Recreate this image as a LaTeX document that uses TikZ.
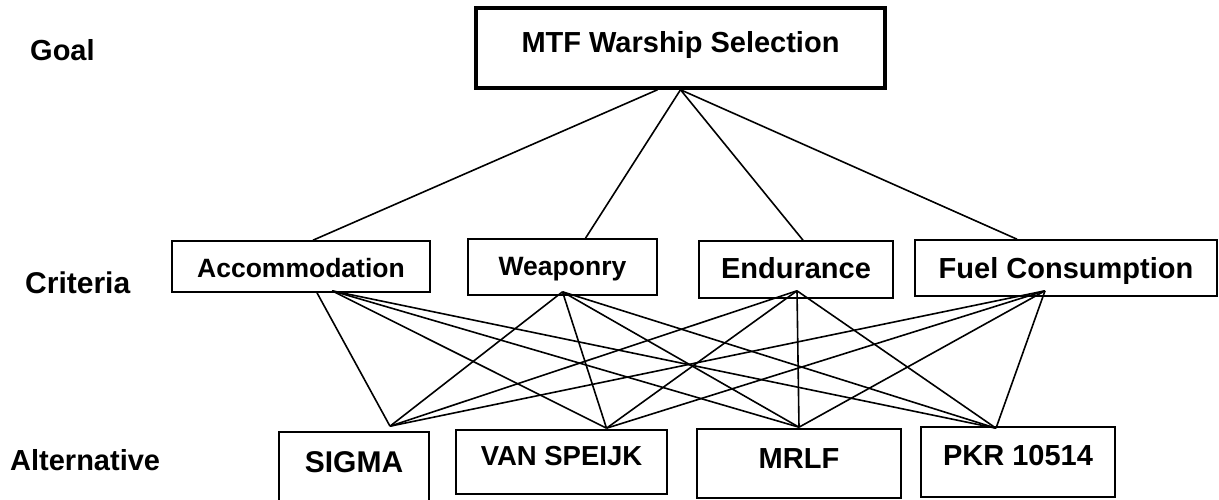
\documentclass[tikz,border=0pt]{standalone}
\usepackage{fontspec}
\setmainfont{Liberation Sans}

\tikzset{
  lvl/.style={anchor=base west, inner sep=0pt, font={\fontsize{29}{31}\selectfont\bfseries}},
  goalbox/.style={draw, line width=3.5pt, anchor=base, inner sep=0pt, font={\fontsize{29}{31}\selectfont\bfseries}},
  critbox/.style={draw, line width=1.6pt, anchor=base, inner sep=0pt, font={\fontsize{26.5}{28}\selectfont\bfseries}},
  big/.style={font={\fontsize{29}{31}\selectfont\bfseries}},
  link/.style={line width=1.6pt},
}

\begin{document}
\begin{tikzpicture}[x=1pt, y=-1pt]
\useasboundingbox (0,0) rectangle (1219,499);

% levels
\node [lvl] (lgoal) at (30,60) {Goal};
\node [lvl, font={\fontsize{30}{32}\selectfont\bfseries}] (lcrit) at (25,293) {Criteria};
\node [lvl] (lalt) at (10,470) {Alternative};

% goal
\node [goalbox, minimum width=409pt, text height=44pt, text depth=36pt] (goal) at (680.5,52) {MTF Warship Selection};

% criteria
\node [critbox, minimum width=258pt, text height=36pt, text depth=15pt] (acc) at (301,277) {Accommodation};
\node [critbox, minimum width=189pt, text height=36pt, text depth=20pt] (weap) at (562.5,275) {Weaponry};
\node [critbox, big, minimum width=194pt, text height=37pt, text depth=20pt] (endu) at (796,278) {Endurance};
\node [critbox, big, minimum width=302pt, text height=38pt, text depth=18pt] (fuel) at (1066,278) {Fuel Consumption};

% alternatives
\node [critbox, font={\fontsize{30}{32}\selectfont\bfseries}, minimum width=150pt, text height=40pt, text depth=50pt] (sigma) at (354,472) {SIGMA};
\node [critbox, font={\fontsize{27.5}{29}\selectfont\bfseries}, minimum width=211pt, text height=35pt, text depth=29pt] (van) at (561.5,465) {VAN SPEIJK};
\node [critbox, big, minimum width=204pt, text height=39pt, text depth=30pt] (mrlf) at (799,468) {MRLF};
\node [critbox, big, minimum width=194pt, text height=38pt, text depth=32pt] (pkr) at (1018,465) {PKR 10514};

% ends of the links
\coordinate (goalL) at ([xshift=-23pt]goal.south);
\coordinate (accTop) at ([xshift=12pt]acc.north);
\coordinate (weapTop) at ([xshift=23pt]weap.north);
\coordinate (enduTop) at ([xshift=7pt]endu.north);
\coordinate (fuelTop) at ([xshift=-49pt]fuel.north);

\coordinate (accS) at ([xshift=16pt]acc.south);
\coordinate (accR) at ([xshift=31pt,yshift=2pt]acc.south);
\coordinate (weapB) at ([yshift=4pt]weap.south);
\coordinate (enduB) at ([xshift=1pt,yshift=8pt]endu.south);
\coordinate (fuelB) at ([xshift=-21pt,yshift=6pt]fuel.south);

\coordinate (sigmaT) at ([xshift=36pt,yshift=5pt]sigma.north);
\coordinate (vanT) at ([xshift=45pt,yshift=1pt]van.north);
\coordinate (mrlfT) at ([yshift=1pt]mrlf.north);
\coordinate (pkrT) at ([xshift=-22pt,yshift=-2pt]pkr.north);

% goal to criteria
\draw [link] (goalL)--(accTop);
\draw [link] (goal.south)--(weapTop);
\draw [link] (goal.south)--(enduTop);
\draw [link] (goal.south)--(fuelTop);

% criteria to alternatives
\draw [link] (accS)--(sigmaT);
\draw [link] (accR)--(vanT);
\draw [link] (accR)--(mrlfT);
\draw [link] (accR)--(pkrT);

\draw [link] (weapB)--(sigmaT);
\draw [link] (weapB)--(vanT);
\draw [link] (weapB)--(mrlfT);
\draw [link] (weapB)--(pkrT);

\draw [link] (enduB)--(sigmaT);
\draw [link] (enduB)--(vanT);
\draw [link] (enduB)--(mrlfT);
\draw [link] (enduB)--(pkrT);

\draw [link] (fuelB)--(sigmaT);
\draw [link] (fuelB)--(vanT);
\draw [link] (fuelB)--(mrlfT);
\draw [link] (fuelB)--(pkrT);
\end{tikzpicture}
\end{document}
